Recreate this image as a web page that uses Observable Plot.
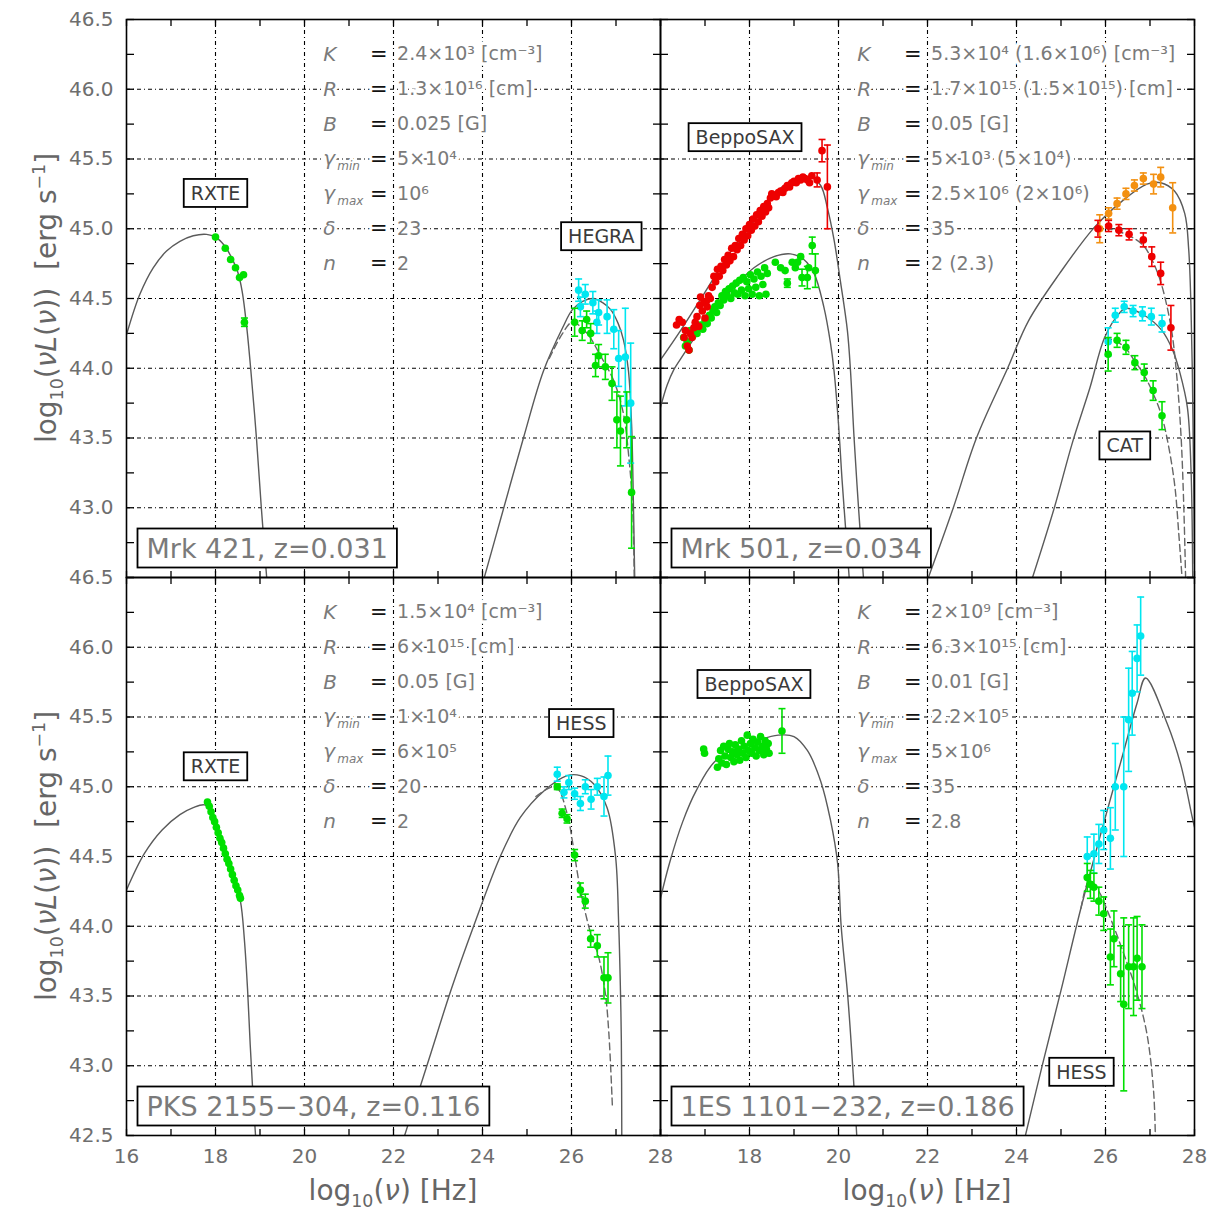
<!DOCTYPE html>
<html>
<head>
<meta charset="utf-8">
<script src="https://cdn.jsdelivr.net/npm/d3@7"></script>
<script src="https://cdn.jsdelivr.net/npm/@observablehq/plot@0.6"></script>
<style>
  body { margin: 0; background: #fff; }
  #chart { position: relative; width: 1217px; height: 1212px; font-family: "DejaVu Sans", sans-serif; }
</style>
</head>
<body>
<div id="chart"></div>
<script>
// ---------- axes ----------
const xTicks = [16, 17, 18, 19, 20, 21, 22, 23, 24, 25, 26, 27, 28];
const xGrid = [18, 20, 22, 24, 26];
const yTicks = [42.5, 42.75, 43, 43.25, 43.5, 43.75, 44, 44.25, 44.5, 44.75, 45, 45.25, 45.5, 45.75, 46, 46.25, 46.5];
const yGrid = [43, 43.5, 44, 44.5, 45, 45.5, 46];
const xLabelsLeft = [16, 18, 20, 22, 24, 26, 28];
const xLabelsRight = [18, 20, 22, 24, 26, 28];
const yLabelsTop = [43, 43.5, 44, 44.5, 45, 45.5, 46, 46.5];
const yLabelsBottom = [42.5, 43, 43.5, 44, 44.5, 45, 45.5, 46, 46.5];

// ---------- Mrk 421 ----------
const mrk421Sync = [[16.0,44.24],[16.3,44.53],[16.6,44.72],[16.9,44.84],[17.2,44.91],[17.5,44.95],[17.8,44.96],[18.0,44.94],[18.2,44.88],[18.35,44.80],[18.5,44.69],[18.6,44.55],[18.7,44.30],[18.79,44.0],[18.92,43.5],[19.03,43.0],[19.15,42.5]];
const mrk421IC = [[24.04,42.5],[24.4,42.91],[24.92,43.5],[25.37,43.98],[25.8,44.29],[26.02,44.42],[26.25,44.48],[26.49,44.50],[26.7,44.47],[26.88,44.42],[27.05,44.32],[27.17,44.2],[27.28,43.98],[27.35,43.6],[27.39,43.05],[27.42,42.5]];
const mrk421ICAbsorbed = [[25.5,44.07],[25.8,44.25],[26.02,44.33],[26.35,44.25],[26.65,44.09],[26.95,43.91],[27.17,43.67],[27.28,43.39],[27.37,43.03],[27.41,42.5]];
const mrk421Rxte = [[18.0,44.94],[18.22,44.86],[18.34,44.78],[18.45,44.72],[18.54,44.65],[18.63,44.67],[18.65,44.33,0.03]];
const mrk421HegraIntrinsic = [[26.16,44.56,0.08],[26.31,44.53,0.07],[26.20,44.44,0.07],[26.48,44.47,0.08],[26.61,44.40,0.09],[26.57,44.33,0.08],[26.80,44.37,0.12],[26.95,44.28,0.14],[27.06,44.07,0.2],[27.21,44.08,0.35],[27.33,43.75,0.43]];
const mrk421HegraObserved = [[26.07,44.33,0.1],[26.34,44.35,0.06],[26.24,44.27,0.07],[26.43,44.25,0.07],[26.61,44.09,0.08],[26.54,44.02,0.08],[26.76,44.01,0.09],[26.91,43.89,0.12],[27.02,43.63,0.2],[27.10,43.55,0.25],[27.24,43.63,0.2],[27.35,43.11,0.4]];

// ---------- Mrk 501 ----------
const mrk501SyncHigh = [[16.0,44.06],[16.45,44.27],[16.97,44.53],[17.5,44.80],[17.95,44.99],[18.4,45.18],[18.77,45.31],[19.15,45.37],[19.37,45.37],[19.6,45.31],[19.75,45.15],[19.9,44.92],[20.04,44.63],[20.2,44.27],[20.27,43.98],[20.35,43.5],[20.45,43.0],[20.56,42.5]];
const mrk501SyncLow = [[16.0,43.72],[16.15,43.88],[16.3,43.99],[16.5,44.09],[16.75,44.21],[17.2,44.41],[17.65,44.58],[18.1,44.72],[18.55,44.80],[18.92,44.82],[19.22,44.78],[19.45,44.68],[19.67,44.44],[19.82,44.18],[19.9,43.98],[20.0,43.6],[20.08,43.2],[20.16,42.85],[20.24,42.5]];
const mrk501ICHigh = [[22.02,42.5],[22.58,43.0],[23.1,43.5],[23.8,44.0],[24.27,44.34],[24.97,44.68],[25.75,45.01],[26.38,45.20],[26.93,45.32],[27.24,45.33],[27.55,45.27],[27.78,45.11],[27.87,44.85],[27.92,44.45],[27.95,44.0],[27.97,43.5],[27.99,43.0],[28.0,42.6]];
const mrk501ICLow = [[24.36,42.5],[24.85,43.0],[25.25,43.46],[25.65,43.86],[25.98,44.22],[26.3,44.39],[26.46,44.43],[26.87,44.38],[27.27,44.27],[27.51,44.13],[27.67,43.97],[27.84,43.72],[27.92,43.29],[27.96,42.5]];
const mrk501ICHighAbsorbed = [[25.75,45.01],[26.07,45.0],[26.53,44.95],[26.85,44.88],[27.04,44.78],[27.24,44.62],[27.47,44.3],[27.6,43.95],[27.7,43.5],[27.76,43.0],[27.8,42.5]];
const mrk501ICLowAbsorbed = [[25.98,44.22],[26.26,44.19],[26.46,44.14],[26.66,44.05],[26.87,43.95],[27.07,43.82],[27.27,43.65],[27.43,43.42],[27.56,43.15],[27.65,42.8],[27.72,42.5]];
const mrk501XrayLow = [[16.52,44.22],[16.56,44.16],[16.60,44.19],[16.64,44.13],[16.67,44.27],[16.72,44.23],[16.78,44.26],[16.82,44.25],[16.86,44.30],[16.90,44.31],[16.95,44.28],[17.00,44.34],[17.05,44.32],[17.10,44.38],[17.14,44.36],[17.18,44.41],[17.22,44.44],[17.26,44.40],[17.30,44.47],[17.34,44.45],[17.38,44.52],[17.42,44.49],[17.46,44.55],[17.50,44.52],[17.54,44.57],[17.58,44.50],[17.62,44.59],[17.66,44.54],[17.70,44.61],[17.74,44.53],[17.78,44.63],[17.82,44.56],[17.86,44.65],[17.90,44.52],[17.94,44.62],[17.98,44.57],[18.02,44.67],[18.06,44.53],[18.10,44.64],[18.14,44.58],[18.18,44.69],[18.22,44.52],[18.26,44.66],[18.30,44.60],[18.34,44.72],[18.37,44.53],[18.40,44.68],[18.58,44.76],[18.70,44.72],[18.80,44.70],[18.85,44.61,0.03],[18.96,44.76],[19.03,44.72],[19.08,44.76],[19.15,44.80],[19.18,44.65,0.06],[19.30,44.65,0.08],[19.33,44.72],[19.41,44.88,0.06],[19.48,44.70,0.12]];
const mrk501XrayHigh = [[16.36,44.31],[16.42,44.35],[16.49,44.33],[16.53,44.22],[16.56,44.27],[16.60,44.16],[16.64,44.13],[16.67,44.25],[16.71,44.22],[16.75,44.29],[16.78,44.33],[16.82,44.37],[16.86,44.30],[16.88,44.45],[16.90,44.51],[16.94,44.41],[16.97,44.47],[17.00,44.36],[17.03,44.48],[17.05,44.44],[17.08,44.52],[17.12,44.50],[17.16,44.58],[17.20,44.66],[17.24,44.62],[17.28,44.71],[17.32,44.66],[17.36,44.73],[17.40,44.70],[17.44,44.78],[17.48,44.74],[17.52,44.81],[17.56,44.77],[17.60,44.86],[17.64,44.80],[17.68,44.88],[17.72,44.85],[17.76,44.93],[17.80,44.88],[17.84,44.96],[17.88,44.92],[17.92,45.00],[17.96,44.95],[18.00,45.03],[18.04,44.99],[18.08,45.07],[18.12,45.02],[18.16,45.10],[18.20,45.05],[18.24,45.13],[18.28,45.09],[18.32,45.16],[18.36,45.12],[18.40,45.18],[18.43,45.15],[18.47,45.22],[18.50,45.25],[18.55,45.24],[18.60,45.23],[18.65,45.26],[18.70,45.27],[18.75,45.26],[18.80,45.29],[18.85,45.31],[18.90,45.30],[18.95,45.33],[19.00,45.34],[19.05,45.33],[19.10,45.36],[19.15,45.35],[19.20,45.37],[19.25,45.36],[19.30,45.35],[19.35,45.33],[19.40,45.38],[19.52,45.35,0.05],[19.63,45.56,0.08],[19.75,45.30,0.3]];
const mrk501TevHighIntrinsic = [[25.87,45.0,0.1],[26.07,45.11,0.04],[26.26,45.18,0.04],[26.46,45.25,0.04],[26.65,45.31,0.04],[26.85,45.36,0.04],[27.08,45.32,0.07],[27.24,45.37,0.07],[27.51,45.15,0.18]];
const mrk501TevHighObserved = [[25.83,45.0,0.06],[26.07,45.02,0.04],[26.30,44.99,0.04],[26.53,44.96,0.04],[26.85,44.92,0.05],[27.04,44.80,0.07],[27.24,44.68,0.08],[27.47,44.29,0.16]];
const mrk501CatIntrinsic = [[26.06,44.19,0.1],[26.22,44.38,0.05],[26.42,44.44,0.04],[26.62,44.41,0.04],[26.83,44.39,0.05],[27.03,44.37,0.06],[27.27,44.32,0.06]];
const mrk501CatObserved = [[26.06,44.10,0.12],[26.26,44.20,0.05],[26.46,44.15,0.05],[26.66,44.04,0.05],[26.87,43.97,0.06],[27.07,43.84,0.07],[27.27,43.66,0.1]];

// ---------- PKS 2155-304 ----------
const pksSync = [[16.0,44.26],[16.4,44.52],[16.8,44.69],[17.2,44.80],[17.5,44.85],[17.75,44.87],[17.9,44.83],[18.05,44.70],[18.2,44.55],[18.4,44.36],[18.56,44.18],[18.65,43.9],[18.72,43.55],[18.78,43.15],[18.84,42.8],[18.9,42.5]];
const pksIC = [[22.25,42.5],[22.8,43.05],[23.3,43.55],[23.8,44.0],[24.4,44.5],[24.85,44.78],[25.38,44.97],[25.9,45.08],[26.2,45.08],[26.5,45.02],[26.8,44.85],[26.99,44.5],[27.06,44.02],[27.1,43.54],[27.12,43.18],[27.13,42.5]];
const pksICAbsorbed = [[25.2,44.93],[25.64,45.0],[25.9,44.81],[26.02,44.61],[26.2,44.26],[26.43,43.95],[26.61,43.78],[26.76,43.52],[26.84,43.23],[26.92,42.7]];
const pksRxte = [[17.82,44.89],[17.86,44.86],[17.90,44.82],[17.94,44.78],[17.98,44.75],[18.02,44.71],[18.06,44.67],[18.10,44.63],[18.14,44.60],[18.18,44.56],[18.22,44.52],[18.26,44.48],[18.30,44.45],[18.34,44.41],[18.38,44.37],[18.42,44.33],[18.46,44.29],[18.50,44.26],[18.54,44.22],[18.56,44.20]];
const pksHessIntrinsic = [[25.68,45.09,0.05],[25.83,44.96,0.04],[25.94,45.03,0.05],[26.07,44.95,0.04],[26.20,44.88,0.05],[26.31,45.0,0.05],[26.44,44.91,0.07],[26.58,45.0,0.06],[26.73,44.93,0.14],[26.82,45.08,0.14]];
const pksHessObserved = [[25.68,45.0,0.02],[25.79,44.81,0.03],[25.90,44.77,0.03],[26.07,44.51,0.04],[26.20,44.26,0.05],[26.31,44.18,0.05],[26.43,43.91,0.06],[26.58,43.86,0.08],[26.73,43.63,0.15],[26.82,43.63,0.18]];

// ---------- 1ES 1101-232 ----------
const esSync = [[16.0,44.2],[16.2,44.45],[16.5,44.75],[16.8,44.97],[17.25,45.19],[18.0,45.31],[18.65,45.37],[19.0,45.36],[19.3,45.26],[19.6,45.04],[19.82,44.76],[19.98,44.45],[20.06,44.0],[20.21,43.49],[20.33,42.94],[20.41,42.5]];
const esIC = [[24.2,42.5],[24.6,43.03],[25.0,43.54],[25.44,44.12],[25.96,44.74],[26.38,45.22],[26.71,45.6],[26.9,45.78],[27.39,45.45],[27.69,45.16],[27.95,44.78],[28.0,44.71]];
const esICAbsorbed = [[25.45,44.13],[25.64,44.33],[25.85,44.25],[26.07,44.09],[26.38,43.83],[26.69,43.54],[26.93,43.23],[27.08,42.82],[27.12,42.5]];
const esSax = [[16.97,45.27],[16.99,45.24],[17.28,45.14],[17.31,45.20],[17.35,45.26],[17.38,45.17],[17.42,45.29],[17.45,45.22],[17.48,45.16],[17.52,45.27],[17.55,45.31],[17.58,45.21],[17.62,45.25],[17.65,45.18],[17.68,45.30],[17.72,45.23],[17.75,45.27],[17.78,45.19],[17.82,45.33],[17.85,45.24],[17.88,45.29],[17.92,45.21],[17.95,45.37],[17.98,45.26],[18.02,45.31],[18.05,45.24],[18.08,45.34],[18.12,45.28],[18.15,45.22],[18.18,45.32],[18.22,45.26],[18.25,45.36],[18.28,45.29],[18.32,45.23],[18.35,45.33],[18.38,45.27],[18.42,45.31],[18.44,45.24],[18.73,45.40,0.16]];
const esHessIntrinsic = [[25.59,44.50,0.14],[25.74,44.52,0.14],[25.85,44.59,0.14],[25.96,44.69,0.14],[26.11,44.63,0.22],[26.22,45.0,0.31],[26.41,45.0,0.5],[26.52,45.48,0.37],[26.60,45.67,0.3],[26.71,45.92,0.24],[26.79,46.08,0.28]];
const esHessObserved = [[25.59,44.35,0.1],[25.66,44.30,0.1],[25.74,44.28,0.1],[25.85,44.18,0.1],[25.96,44.09,0.12],[26.11,43.78,0.2],[26.19,43.91,0.2],[26.34,43.66,0.2],[26.41,43.44,0.62],[26.52,43.71,0.3],[26.63,43.71,0.35],[26.71,43.77,0.3],[26.82,43.71,0.3]];

// ---------- fit parameters ----------
const paramsMrk421 = [
  {sym: "K", val: "2.4×10³ [cm⁻³]"},
  {sym: "R", val: "1.3×10¹⁶ [cm]"},
  {sym: "B", val: "0.025 [G]"},
  {sym: "γ", sub: "min", val: "5×10⁴"},
  {sym: "γ", sub: "max", val: "10⁶"},
  {sym: "δ", val: "23"},
  {sym: "n", val: "2"}
];
const paramsMrk501 = [
  {sym: "K", val: "5.3×10⁴ (1.6×10⁶) [cm⁻³]"},
  {sym: "R", val: "1.7×10¹⁵ (1.5×10¹⁵) [cm]"},
  {sym: "B", val: "0.05 [G]"},
  {sym: "γ", sub: "min", val: "5×10³ (5×10⁴)"},
  {sym: "γ", sub: "max", val: "2.5×10⁶ (2×10⁶)"},
  {sym: "δ", val: "35"},
  {sym: "n", val: "2 (2.3)"}
];
const paramsPks = [
  {sym: "K", val: "1.5×10⁴ [cm⁻³]"},
  {sym: "R", val: "6×10¹⁵ [cm]"},
  {sym: "B", val: "0.05 [G]"},
  {sym: "γ", sub: "min", val: "1×10⁴"},
  {sym: "γ", sub: "max", val: "6×10⁵"},
  {sym: "δ", val: "20"},
  {sym: "n", val: "2"}
];
const params1es = [
  {sym: "K", val: "2×10⁹ [cm⁻³]"},
  {sym: "R", val: "6.3×10¹⁵ [cm]"},
  {sym: "B", val: "0.01 [G]"},
  {sym: "γ", sub: "min", val: "2.2×10⁵"},
  {sym: "γ", sub: "max", val: "5×10⁶"},
  {sym: "δ", val: "35"},
  {sym: "n", val: "2.8"}
];

// ---------- styles ----------
const GREEN = "#00e000", CYAN = "#00e6f0", RED = "#ee0000", ORANGE = "#f39010";
const CURVE = "#5a5a5a";
const TEXT_GRAY = "#7a7a7a";
const GRID = {stroke: "#000", strokeOpacity: 1, strokeWidth: 1.1, strokeDasharray: "4,3,1,3"};
const TICK = {tickSize: 7, fill: "none", stroke: "#000", strokeWidth: 1.3, label: null};
const LABEL = {tickSize: 0, tickPadding: 13, fontSize: 20, fill: "#6e6e6e", label: null};
const capSymbol = {draw(ctx) { ctx.moveTo(-3.5, 0); ctx.lineTo(3.5, 0); }};

const panels = [
  {
    pos: {left: 0, top: 0}, width: 660, height: 577,
    margin: {top: 19, right: 0, bottom: 0, left: 126},
    yLabels: yLabelsTop, yTitle: true,
    params: paramsMrk421, source: "Mrk 421, z=0.031",
    instruments: [{name: "RXTE", x: 18.0, y: 45.25}, {name: "HEGRA", x: 26.67, y: 44.94}],
    solid: [mrk421Sync, mrk421IC], dashed: [mrk421ICAbsorbed],
    series: [
      {data: mrk421Rxte, color: GREEN},
      {data: mrk421HegraIntrinsic, color: CYAN},
      {data: mrk421HegraObserved, color: GREEN}
    ]
  },
  {
    pos: {left: 660, top: 0}, width: 557, height: 577,
    margin: {top: 19, right: 23, bottom: 0, left: 0},
    params: paramsMrk501, source: "Mrk 501, z=0.034",
    instruments: [{name: "BeppoSAX", x: 17.9, y: 45.65}, {name: "CAT", x: 26.43, y: 43.44}],
    solid: [mrk501SyncHigh, mrk501SyncLow, mrk501ICHigh, mrk501ICLow],
    dashed: [mrk501ICHighAbsorbed, mrk501ICLowAbsorbed],
    series: [
      {data: mrk501XrayLow, color: GREEN},
      {data: mrk501XrayHigh, color: RED},
      {data: mrk501TevHighIntrinsic, color: ORANGE},
      {data: mrk501TevHighObserved, color: RED},
      {data: mrk501CatIntrinsic, color: CYAN},
      {data: mrk501CatObserved, color: GREEN}
    ]
  },
  {
    pos: {left: 0, top: 577}, width: 660, height: 635,
    margin: {top: 0, right: 0, bottom: 77, left: 126},
    yLabels: yLabelsBottom, xLabels: xLabelsLeft, yTitle: true, xTitle: true,
    params: paramsPks, source: "PKS 2155−304, z=0.116",
    instruments: [{name: "RXTE", x: 18.0, y: 45.14}, {name: "HESS", x: 26.22, y: 45.45}],
    solid: [pksSync, pksIC], dashed: [pksICAbsorbed],
    series: [
      {data: pksRxte, color: GREEN},
      {data: pksHessIntrinsic, color: CYAN},
      {data: pksHessObserved, color: GREEN}
    ]
  },
  {
    pos: {left: 660, top: 577}, width: 557, height: 635,
    margin: {top: 0, right: 23, bottom: 77, left: 0},
    xLabels: xLabelsRight, xTitle: true,
    params: params1es, source: "1ES 1101−232, z=0.186",
    instruments: [{name: "BeppoSAX", x: 18.1, y: 45.73}, {name: "HESS", x: 25.46, y: 42.95}],
    solid: [esSync, esIC], dashed: [esICAbsorbed],
    series: [
      {data: esSax, color: GREEN},
      {data: esHessIntrinsic, color: CYAN},
      {data: esHessObserved, color: GREEN}
    ]
  }
];

function seriesMarks({data, color}) {
  const withErr = data.filter(d => d[2] !== undefined);
  const caps = withErr.flatMap(d => [[d[0], d[1] - d[2]], [d[0], d[1] + d[2]]]);
  return [
    Plot.ruleX(withErr, {x: d => d[0], y1: d => d[1] - d[2], y2: d => d[1] + d[2], stroke: color, strokeWidth: 1.6}),
    Plot.dot(caps, {x: d => d[0], y: d => d[1], symbol: capSymbol, stroke: color, strokeWidth: 1.6, fill: "none"}),
    Plot.dot(data, {x: d => d[0], y: d => d[1], r: 3.8, fill: color, stroke: "none"})
  ];
}

function panelMarks(p) {
  const rows = p.params.map((d, i) => ({...d, row: i}));
  const rowY = d => 46.25 - 0.25 * d.row;
  const marks = [
    Plot.gridX(xGrid, GRID),
    Plot.gridY(yGrid, GRID),
    Plot.axisX(xTicks, {...TICK, anchor: "top", frameAnchor: "bottom"}),
    Plot.axisX(xTicks, {...TICK, anchor: "bottom", frameAnchor: "top"}),
    Plot.axisY(yTicks, {...TICK, anchor: "right", frameAnchor: "left"}),
    Plot.axisY(yTicks, {...TICK, anchor: "left", frameAnchor: "right"})
  ];
  if (p.xLabels) marks.push(Plot.axisX(p.xLabels, {...LABEL, anchor: "bottom", tickFormat: d => String(d)}));
  if (p.yLabels) marks.push(Plot.axisY(p.yLabels, {...LABEL, anchor: "left", tickFormat: d => d.toFixed(1)}));

  // parameter table
  marks.push(
    Plot.text(rows, {x: 20.42, y: rowY, text: "sym", textAnchor: "start", fontStyle: "italic", fontSize: 20, fill: TEXT_GRAY, stroke: "white", strokeWidth: 6}),
    Plot.text(rows.filter(d => d.sub), {x: 20.42, y: rowY, text: "sub", textAnchor: "start", dx: 14, dy: 7, fontStyle: "italic", fontSize: 12, fill: TEXT_GRAY, stroke: "white", strokeWidth: 4}),
    Plot.text(rows, {x: 21.67, y: rowY, text: () => "=", fontSize: 21, fill: "#111", stroke: "white", strokeWidth: 6}),
    Plot.text(rows, {x: 22.08, y: rowY, text: "val", textAnchor: "start", fontSize: 19, fill: TEXT_GRAY, stroke: "white", strokeWidth: 7})
  );

  // model curves
  for (const c of p.solid) marks.push(Plot.line(c, {x: d => d[0], y: d => d[1], stroke: CURVE, strokeWidth: 1.4, curve: "catmull-rom", clip: true}));
  for (const c of p.dashed) marks.push(Plot.line(c, {x: d => d[0], y: d => d[1], stroke: "#666", strokeWidth: 1.4, strokeDasharray: "7,4", curve: "catmull-rom", clip: true}));

  // measurements
  for (const s of p.series) marks.push(...seriesMarks(s));

  // instrument tags and source name (boxes added once in the DOM)
  marks.push(
    Plot.text(p.instruments, {x: "x", y: "y", text: "name", fontSize: 19, fill: "#3a3a3a", className: "boxed"}),
    Plot.text([p.source], {text: d => d, frameAnchor: "bottom-left", dx: 20, dy: -20, textAnchor: "start", lineAnchor: "bottom", fontSize: 27, fill: "#7a7a7a", className: "boxed source"}),
    Plot.frame({stroke: "#000", strokeWidth: 1.6})
  );
  return marks;
}

function richText(sel, parts, size) {
  let shift = 0;
  for (const p of parts) {
    const ts = sel.append("tspan").text(p.t);
    const target = p.sub ? 7 : p.sup ? -11 : 0;
    if (target !== shift) { ts.attr("dy", target - shift); shift = target; }
    if (p.sub || p.sup) ts.attr("font-size", size * 0.62);
    if (p.it) ts.attr("font-style", "italic");
  }
}

const yTitleParts = [{t: "log"}, {t: "10", sub: true}, {t: "("}, {t: "ν", it: true}, {t: "L", it: true}, {t: "("}, {t: "ν", it: true}, {t: "))  [erg s"}, {t: "−1", sup: true}, {t: "]"}];
const xTitleParts = [{t: "log"}, {t: "10", sub: true}, {t: "("}, {t: "ν", it: true}, {t: ") [Hz]"}];

const chart = document.getElementById("chart");
for (const p of panels) {
  const svg = Plot.plot({
    width: p.width, height: p.height,
    marginTop: p.margin.top, marginRight: p.margin.right, marginBottom: p.margin.bottom, marginLeft: p.margin.left,
    x: {domain: [16, 28]},
    y: {domain: [42.5, 46.5]},
    style: `position:absolute;left:${p.pos.left}px;top:${p.pos.top}px;overflow:visible;background:transparent;font-family:'DejaVu Sans',sans-serif;`,
    marks: panelMarks(p)
  });
  chart.appendChild(svg);

  // boxes around tags
  svg.querySelectorAll("g.boxed text").forEach(t => {
    const b = t.getBBox();
    const big = t.parentNode.classList.contains("source");
    const px = big ? 9 : 7, py = big ? 4 : 3;
    const r = document.createElementNS("http://www.w3.org/2000/svg", "rect");
    r.setAttribute("x", b.x - px);
    r.setAttribute("y", b.y - py);
    r.setAttribute("width", b.width + 2 * px);
    r.setAttribute("height", b.height + 2 * py);
    r.setAttribute("fill", "white");
    r.setAttribute("stroke", "#000");
    r.setAttribute("stroke-width", 1.8);
    if (t.hasAttribute("transform")) r.setAttribute("transform", t.getAttribute("transform"));
    t.parentNode.insertBefore(r, t);
  });

  const s = d3.select(svg);
  if (p.yTitle) {
    const cy = p.margin.top + (p.height - p.margin.top - p.margin.bottom) / 2;
    const t = s.append("text")
      .attr("transform", `translate(56,${cy}) rotate(-90)`)
      .attr("text-anchor", "middle")
      .attr("font-size", 28).attr("fill", "#666");
    richText(t, yTitleParts, 28);
  }
  if (p.xTitle) {
    const cx = p.margin.left + (p.width - p.margin.left - p.margin.right) / 2;
    const t = s.append("text")
      .attr("transform", `translate(${cx},${p.height - 12})`)
      .attr("text-anchor", "middle")
      .attr("font-size", 28).attr("fill", "#666");
    richText(t, xTitleParts, 28);
  }
}
</script>
</body>
</html>
